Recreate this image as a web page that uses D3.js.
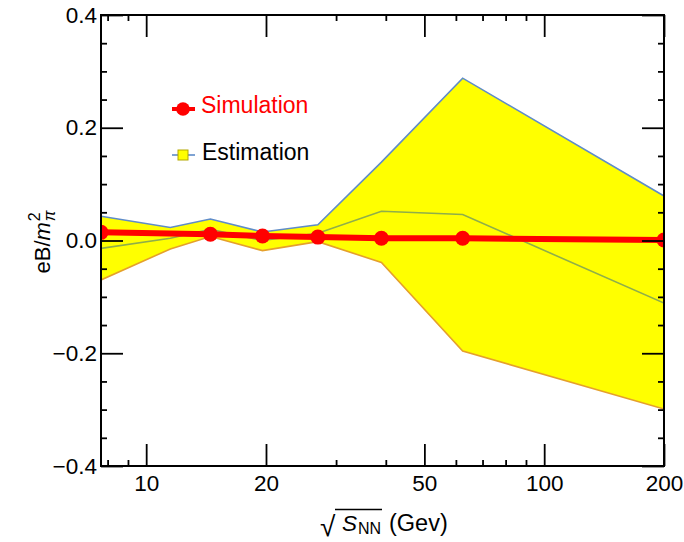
<!DOCTYPE html>
<html>
<head>
<meta charset="utf-8">
<script src="https://cdn.jsdelivr.net/npm/d3@7"></script>
<style>
  html, body { margin: 0; padding: 0; background: #fff; }
  svg { display: block; font-family: "Liberation Sans", Arial, sans-serif; }
</style>
</head>
<body>
<svg id="chart" width="684" height="542"></svg>
<script>
// ---- data ----
const energies = [7.7, 11.5, 14.5, 19.6, 27, 39, 62.4, 200];
const estUpper  = [0.043, 0.023, 0.038, 0.015, 0.028, 0.139, 0.288, 0.079];
const estMiddle = [-0.014, 0.004, 0.020, 0.000, 0.013, 0.052, 0.046, -0.111];
const estLower  = [-0.070, -0.015, 0.007, -0.018, -0.002, -0.039, -0.196, -0.299];
const simEnergies = [7.7, 14.5, 19.6, 27, 39, 62.4, 200];
const simValues   = [0.0145, 0.011, 0.008, 0.006, 0.004, 0.004, 0.001];
const xMajorTicks = [10, 20, 50, 100, 200];
const xMinorTicks = [8, 9, 30, 40, 60, 70, 80, 90];
const yMajorTicks = [-0.4, -0.2, 0.0, 0.2, 0.4];
const yMinorTicks = [-0.35, -0.3, -0.25, -0.15, -0.1, -0.05, 0.05, 0.1, 0.15, 0.25, 0.3, 0.35];

// ---- layout ----
const L = 101, R = 664, T = 15, B = 466;
const svg = d3.select("#chart");
const x = d3.scaleLog().domain([7.7, 200]).range([L, R]);
const y = d3.scaleLinear().domain([-0.4, 0.4]).range([B, T]);

svg.append("defs").append("clipPath").attr("id", "clip")
  .append("rect").attr("x", L).attr("y", T).attr("width", R - L).attr("height", B - T);
const plot = svg.append("g").attr("clip-path", "url(#clip)");

const est = energies.map((e, i) => ({ e, u: estUpper[i], m: estMiddle[i], l: estLower[i] }));

plot.append("path").datum(est)
  .attr("fill", "#ffff00")
  .attr("d", d3.area().x(d => x(d.e)).y0(d => y(d.l)).y1(d => y(d.u)));

const lineOf = key => d3.line().x(d => x(d.e)).y(d => y(d[key]));
plot.append("path").datum(est).attr("fill", "none").attr("stroke", "#5f8cc8").attr("stroke-width", 1.6).attr("d", lineOf("u"));
plot.append("path").datum(est).attr("fill", "none").attr("stroke", "#e5a02c").attr("stroke-width", 1.6).attr("d", lineOf("l"));
plot.append("path").datum(est).attr("fill", "none").attr("stroke", "#8fae4a").attr("stroke-width", 1.6).attr("d", lineOf("m"));

const sim = simEnergies.map((e, i) => ({ e, v: simValues[i] }));
plot.append("path").datum(sim).attr("fill", "none").attr("stroke", "#ff0000").attr("stroke-width", 6)
  .attr("d", d3.line().x(d => x(d.e)).y(d => y(d.v)));
plot.selectAll("circle.sim").data(sim).enter().append("circle")
  .attr("class", "sim").attr("cx", d => x(d.e)).attr("cy", d => y(d.v)).attr("r", 7.5).attr("fill", "#ff0000");

// ---- axes (ticks inward on all four sides) ----
const MAJ = 22, MIN = 6, FS = 22.5;
function styleAxis(g) {
  g.select(".domain").remove();
  g.selectAll(".tick line").attr("stroke", "#000").attr("stroke-width", 1.8);
  g.selectAll(".tick text").attr("fill", "#000").attr("font-size", FS)
    .attr("font-family", "Liberation Sans, Arial, sans-serif");
}
function addAxis(axis, tx, ty) {
  svg.append("g").attr("transform", `translate(${tx},${ty})`).call(axis).call(styleAxis);
}
addAxis(d3.axisBottom(x).tickValues(xMajorTicks).tickSizeInner(-MAJ).tickSizeOuter(0).tickPadding(9).tickFormat(d3.format("d")), 0, B);
addAxis(d3.axisBottom(x).tickValues(xMinorTicks).tickSizeInner(-MIN).tickSizeOuter(0).tickFormat(""), 0, B);
addAxis(d3.axisTop(x).tickValues(xMajorTicks).tickSizeInner(-MAJ).tickSizeOuter(0).tickFormat(""), 0, T);
addAxis(d3.axisTop(x).tickValues(xMinorTicks).tickSizeInner(-MIN).tickSizeOuter(0).tickFormat(""), 0, T);
addAxis(d3.axisLeft(y).tickValues(yMajorTicks).tickSizeInner(-MAJ).tickSizeOuter(0).tickPadding(4).tickFormat(d3.format(".1f")), L, 0);
addAxis(d3.axisLeft(y).tickValues(yMinorTicks).tickSizeInner(-MIN).tickSizeOuter(0).tickFormat(""), L, 0);
addAxis(d3.axisRight(y).tickValues(yMajorTicks).tickSizeInner(-MAJ).tickSizeOuter(0).tickFormat(""), R, 0);
addAxis(d3.axisRight(y).tickValues(yMinorTicks).tickSizeInner(-MIN).tickSizeOuter(0).tickFormat(""), R, 0);
svg.append("rect").attr("x", L).attr("y", T).attr("width", R - L).attr("height", B - T)
  .attr("fill", "none").attr("stroke", "#000").attr("stroke-width", 2);

// ---- y-axis label ----
const yl = svg.append("text").attr("transform", "translate(50,242) rotate(-90)")
  .attr("text-anchor", "middle").attr("font-size", 22).attr("fill", "#000");
yl.append("tspan").text("eB/");
yl.append("tspan").attr("font-style", "italic").text("m");
yl.append("tspan").attr("font-size", 16).attr("dy", -10).attr("dx", 1).text("2");
yl.append("tspan").attr("font-size", 16).attr("font-style", "italic").attr("dx", -9).attr("dy", 15).text("\u03C0");

// ---- x-axis label ----
svg.append("text").attr("x", 320).attr("y", 536).attr("font-size", 28).attr("fill", "#000").text("\u221A");
svg.append("path").attr("d", "M335,509.5H382").attr("stroke", "#000").attr("stroke-width", 1.4);
const xl = svg.append("text").attr("x", 342).attr("y", 531).attr("font-size", 22.5).attr("fill", "#000");
xl.append("tspan").attr("font-style", "italic").text("S");
xl.append("tspan").attr("font-size", 16).attr("dy", 3).attr("dx", 1).text("NN");
svg.append("text").attr("x", 389).attr("y", 531).attr("font-size", 23.5).attr("fill", "#000").text("(Gev)");

// ---- legend ----
const lg = svg.append("g");
lg.append("line").attr("x1", 172).attr("x2", 195).attr("y1", 109).attr("y2", 109).attr("stroke", "#ff0000").attr("stroke-width", 4);
lg.append("circle").attr("cx", 183).attr("cy", 109).attr("r", 6.8).attr("fill", "#ff0000");
lg.append("text").attr("x", 201).attr("y", 112.5).attr("font-size", 23).attr("fill", "#ff0000").text("Simulation");
lg.append("line").attr("x1", 172).attr("x2", 195).attr("y1", 155).attr("y2", 155).attr("stroke", "#5f8cc8").attr("stroke-width", 1.6);
lg.append("rect").attr("x", 178).attr("y", 150).attr("width", 10).attr("height", 10).attr("fill", "#ffff00").attr("stroke", "#b3a800").attr("stroke-width", 1);
lg.append("text").attr("x", 202).attr("y", 159.5).attr("font-size", 23).attr("fill", "#000").text("Estimation");
</script>
</body>
</html>
